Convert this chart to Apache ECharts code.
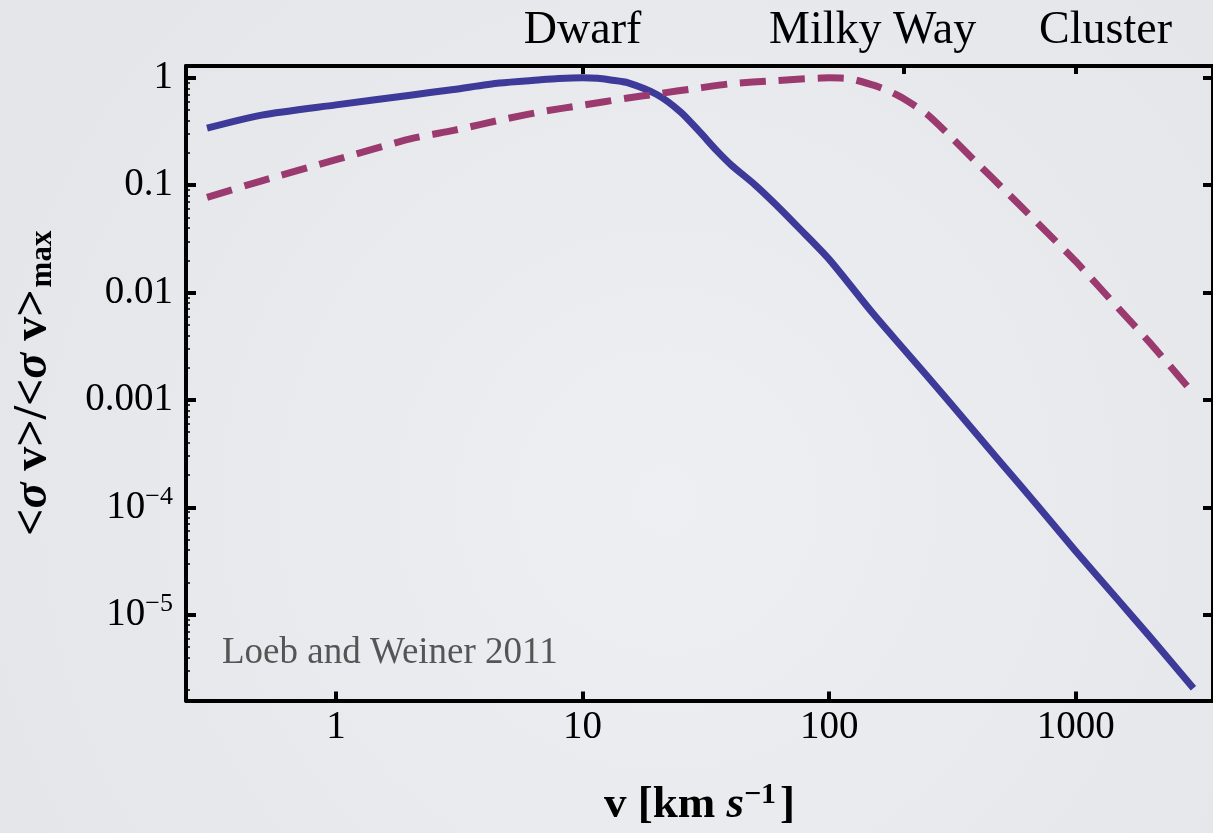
<!DOCTYPE html>
<html>
<head>
<meta charset="utf-8">
<script src="https://cdn.jsdelivr.net/npm/echarts@6/dist/echarts.min.js"></script>
<style>
html,body{margin:0;padding:0;background:#eceef1;}
#chart{width:1213px;height:833px;}
</style>
</head>
<body>
<div id="chart"></div>
<script>
// ---- data ----
const solidV = [0.3, 0.5, 1, 2, 3, 4.6, 6.6, 8, 10, 11.5, 13, 15.3, 20, 25, 30, 35, 40, 50, 60, 75, 100, 150, 200, 300, 500, 700, 1000, 1500, 2000, 3000];
const solidY = [0.34, 0.45, 0.56, 0.69, 0.78, 0.895, 0.955, 0.985, 1.0, 0.99, 0.955, 0.899, 0.70, 0.48, 0.31, 0.21, 0.155, 0.101, 0.068, 0.0405, 0.0204, 0.00645, 0.0030, 0.00102, 2.56e-4, 1.035e-4, 3.9e-5, 1.33e-5, 6.2e-6, 2.06e-6];

const dashedV = [0.3, 0.5, 1, 2, 3, 5, 7, 10, 15, 20, 30, 40, 60, 80, 100, 120, 150, 170, 200, 250, 300, 400, 500, 700, 1000, 1500, 2000, 3000];
const dashedY = [0.077, 0.11, 0.173, 0.27, 0.324, 0.42, 0.489, 0.557, 0.645, 0.709, 0.808, 0.882, 0.942, 0.98, 1.0, 0.985, 0.86, 0.774, 0.643, 0.456, 0.307, 0.159, 0.0962, 0.0444, 0.0195, 0.0070, 0.0034, 0.00115];

const xTickValues = [1, 10, 100, 1000];
const xTickLabels = ['1', '10', '100', '1000'];
const yTickValues = [1, 0.1, 0.01, 0.001, 1e-4, 1e-5];
const yTickLabels = ['1', '0.1', '0.01', '0.001', '{n|10}{sup|\u22124}', '{n|10}{sup|\u22125}'];
const topTickValues = [10, 200, 1000];
const topLabelValues = [10, 150, 1320];
const topLabelNames = ['Dwarf', 'Milky Way', 'Cluster'];
const creditText = 'Loeb and Weiner 2011';

// ---- axis ranges ----
const X_MIN = 0.2465, X_MAX = 3601;
const Y_MIN = 1.585e-6, Y_MAX = 1.29;

// minor ticks on the left axis: 2..9 times each power of ten
const yMinorValues = [];
for (let e = -6; e <= 0; e++) {
  for (let m = 2; m <= 9; m++) {
    const v = m * Math.pow(10, e);
    if (v > Y_MIN && v < Y_MAX) yMinorValues.push(v);
  }
}

function nearestLabel(values, labels, v) {
  let best = 0, bd = Infinity;
  for (let i = 0; i < values.length; i++) {
    const d = Math.abs(Math.log10(values[i]) - Math.log10(v));
    if (d < bd) { bd = d; best = i; }
  }
  return labels[best];
}

const SERIF = '"Liberation Serif", "DejaVu Serif", serif';
const AXIS_COLOR = '#000';

const chart = echarts.init(document.getElementById('chart'), null, {renderer: 'canvas'});

const option = {
  animation: false,
  backgroundColor: {
    type: 'radial', x: 0.55, y: 0.6, r: 0.85,
    colorStops: [{offset: 0, color: '#eeeff2'}, {offset: 1, color: '#e4e6ea'}]
  },
  grid: {left: 186, right: -5, top: 66, bottom: 130, containLabel: false},
  xAxis: [
    {
      type: 'log', logBase: 10, position: 'bottom', min: X_MIN, max: X_MAX,
      axisLine: {show: true, onZero: false, lineStyle: {color: AXIS_COLOR, width: 4}},
      axisTick: {show: true, inside: true, length: 9, lineStyle: {color: AXIS_COLOR, width: 4}, customValues: xTickValues},
      minorTick: {show: false},
      splitLine: {show: false},
      axisLabel: {
        show: true, margin: 8, color: '#000', fontFamily: SERIF, fontSize: 39,
        customValues: xTickValues,
        formatter: v => nearestLabel(xTickValues, xTickLabels, v)
      },
      name: '{b|v [km }{si|s}{sup|\u22121}{b|]}',
      nameLocation: 'middle', nameGap: 80,
      nameTextStyle: {
        rich: {
          b: {fontFamily: SERIF, fontWeight: 'bold', fontSize: 45, color: '#000'},
          si: {fontFamily: SERIF, fontWeight: 'bold', fontStyle: 'italic', fontSize: 45, color: '#000'},
          sup: {fontFamily: SERIF, fontWeight: 'bold', fontSize: 30, color: '#000', padding: [0, 4, 20, 0]}
        }
      }
    },
    {
      type: 'log', logBase: 10, position: 'top', min: X_MIN, max: X_MAX,
      axisLine: {show: true, onZero: false, lineStyle: {color: AXIS_COLOR, width: 4}},
      axisTick: {show: true, inside: true, length: 8, lineStyle: {color: AXIS_COLOR, width: 4}, customValues: topTickValues},
      splitLine: {show: false},
      axisLabel: {
        show: true, margin: 12, color: '#000', fontFamily: SERIF, fontSize: 46,
        customValues: topLabelValues,
        formatter: v => nearestLabel(topLabelValues, topLabelNames, v)
      }
    }
  ],
  yAxis: [
    {
      type: 'log', logBase: 10, position: 'left', min: Y_MIN, max: Y_MAX,
      axisLine: {show: true, onZero: false, lineStyle: {color: AXIS_COLOR, width: 4}},
      axisTick: {show: true, inside: true, length: 10, lineStyle: {color: AXIS_COLOR, width: 4}, customValues: yTickValues},
      splitLine: {show: false},
      axisLabel: {
        show: true, margin: 13, color: '#000', fontFamily: SERIF, fontSize: 39,
        customValues: yTickValues,
        formatter: v => nearestLabel(yTickValues, yTickLabels, v),
        rich: {
          n: {fontFamily: SERIF, fontSize: 39, color: '#000'},
          sup: {fontFamily: SERIF, fontSize: 26, color: '#000', padding: [0, 0, 20, 0]}
        }
      },
      name: '{b|<}{si|\u03c3}{b| v>/<}{si|\u03c3}{b| v>}{sub|max}',
      nameLocation: 'middle', nameRotate: 90, nameGap: 128,
      nameTextStyle: {
        rich: {
          b: {fontFamily: SERIF, fontWeight: 'bold', fontSize: 48, color: '#000'},
          si: {fontFamily: SERIF, fontWeight: 'bold', fontStyle: 'italic', fontSize: 48, color: '#000'},
          sub: {fontFamily: SERIF, fontWeight: 'bold', fontSize: 31, color: '#000', padding: [18, 0, 0, 2]}
        }
      }
    },
    {
      type: 'log', logBase: 10, position: 'right', min: Y_MIN, max: Y_MAX,
      axisLine: {show: true, onZero: false, lineStyle: {color: AXIS_COLOR, width: 4}},
      axisTick: {show: true, inside: true, length: 10, lineStyle: {color: AXIS_COLOR, width: 4}, customValues: yTickValues},
      splitLine: {show: false},
      axisLabel: {show: false}
    },
    {
      type: 'log', logBase: 10, position: 'left', min: Y_MIN, max: Y_MAX,
      axisLine: {show: false},
      axisTick: {show: true, inside: true, length: 4, lineStyle: {color: AXIS_COLOR, width: 1.5}, customValues: yMinorValues},
      splitLine: {show: false},
      axisLabel: {show: false}
    }
  ],
  graphic: [
    {
      type: 'text', left: 222, top: 635, silent: true,
      style: {text: creditText, fill: '#555', font: '37px ' + SERIF}
    }
  ],
  series: [
    {
      name: 'solid', type: 'line', xAxisIndex: 0, yAxisIndex: 0,
      data: solidV.map((v, i) => [v, solidY[i]]),
      showSymbol: false, smooth: 0.25,
      lineStyle: {color: '#3d3a99', width: 7, cap: 'butt', join: 'round'}
    },
    {
      name: 'dashed', type: 'line', xAxisIndex: 0, yAxisIndex: 0,
      data: dashedV.map((v, i) => [v, dashedY[i]]),
      showSymbol: false, smooth: 0.25,
      lineStyle: {color: '#9b3a6e', width: 7, type: [26, 13], cap: 'butt', join: 'round'}
    }
  ]
};
chart.setOption(option);
</script>
</body>
</html>
